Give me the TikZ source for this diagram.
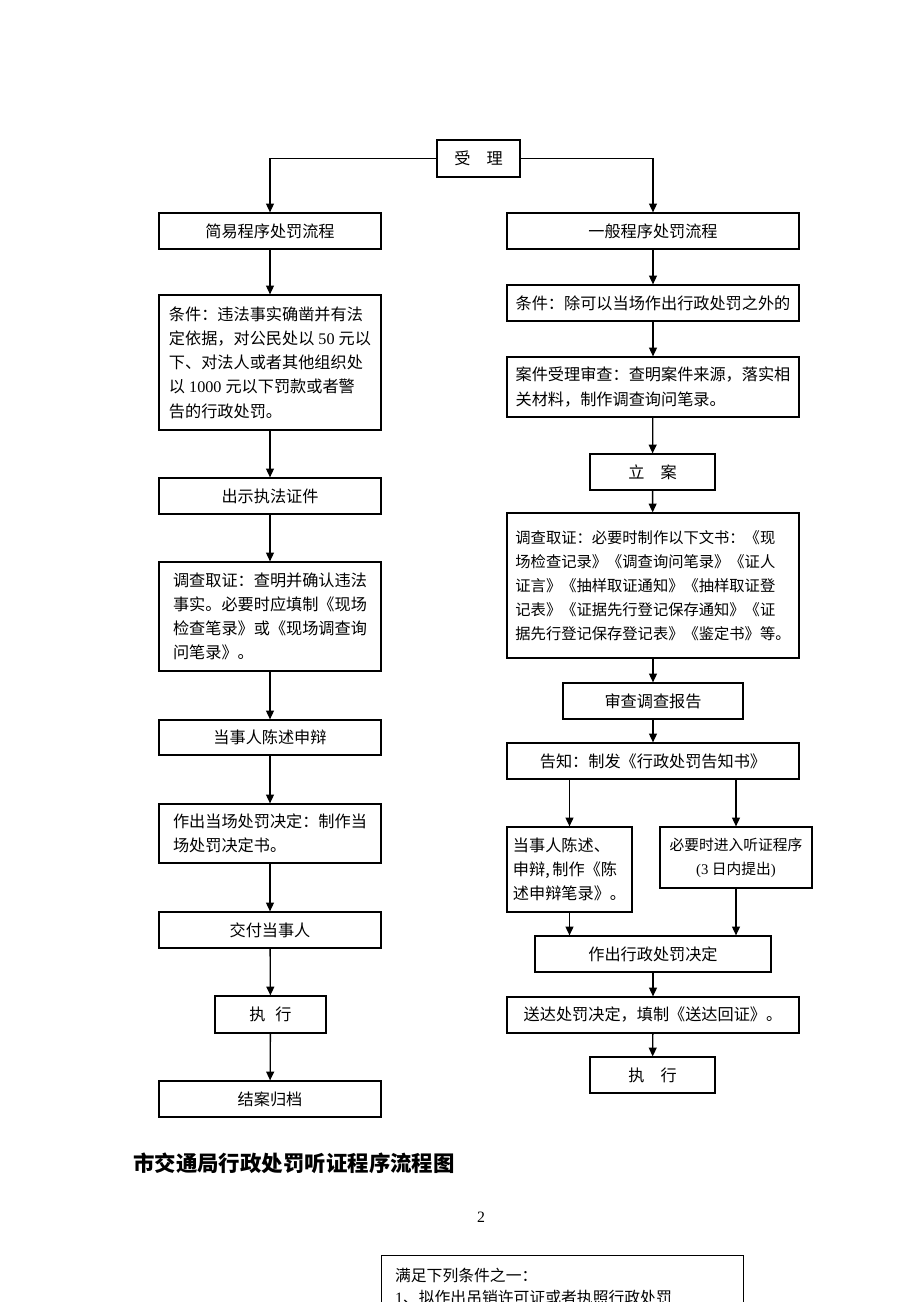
\documentclass[tikz,border=0pt]{standalone}
\usepackage{fontspec}
\setmainfont{Liberation Serif}
\newfontfamily\cjk{Noto Sans CJK SC}
\newfontfamily\latin{Liberation Serif}
\usepackage{tikz}
\usetikzlibrary{calc, positioning, arrows.meta}

\begin{document}
\begin{tikzpicture}[x=0.02cm, y=-0.02cm,
  box/.style={draw, line width=0.7pt, inner sep=2pt, align=left,
    font=\cjk\fontsize{9.2}{13.8}\selectfont, minimum height=0.72cm},
  wide/.style={box, minimum width=5.84cm},
  lwide/.style={box, minimum width=4.44cm},
  small/.style={box, minimum width=2.5cm},
  arr/.style={-{Triangle[length=5pt, width=4.5pt]}, line width=0.75pt}]
\useasboundingbox (0,0) rectangle (920,1302);
\clip (0,0) rectangle (920,1302);
% nodes %
\node[box, minimum width=1.66cm, minimum height=0.74cm] (sl) at (478.5,158.5) {受\hspace{1em}理};
\node[lwide] (jy) at (270,231) {简易程序处罚流程};
\node[wide] (yb) at (653,231) {一般程序处罚流程};
% simple procedure %
\node[lwide, minimum height=2.7cm] (lcond) at (270,362.5) {条件：违法事实确凿并有法\\定依据，对公民处以{\latin\ 50 }元以\\下、对法人或者其他组织处\\以{\latin\ 1000 }元以下罚款或者警\\告的行政处罚。};
\node[lwide] (zs) at (270,496) {出示执法证件};
\node[lwide, minimum height=2.18cm] (ldc) at (270,616.5) {调查取证：查明并确认违法\\事实。必要时应填制《现场\\检查笔录》或《现场调查询\\问笔录》。};
\node[lwide, minimum height=0.7cm] (lsb) at (270,737.5) {当事人陈述申辩};
\node[lwide, minimum height=1.18cm] (ljd) at (270,833.5) {作出当场处罚决定：制作当\\场处罚决定书。};
\node[lwide] (jf) at (270,930) {交付当事人};
\node[box, minimum width=2.22cm, minimum height=0.74cm] (lzx) at (270.5,1014.5) {执\hspace{0.6em}行};
\node[lwide] (ja) at (270,1099) {结案归档};
% general procedure %
\node[wide] (rcond) at (653,303) {条件：除可以当场作出行政处罚之外的};
\node[wide, minimum height=1.2cm] (sc) at (653,387) {案件受理审查：查明案件来源，落实相\\关材料，制作调查询问笔录。};
\node[small] (la) at (652.5,472) {立\hspace{1em}案};
\node[wide, minimum height=2.9cm, inner sep=1pt,
  font=\cjk\fontsize{8.7}{13.6}\selectfont] (rdc) at (653,585.5) {调查取证：必要时制作以下文书：《现\\场检查记录》《调查询问笔录》《证人\\证言》《抽样取证通知》《抽样取证登\\记表》《证据先行登记保存通知》《证\\据先行登记保存登记表》《鉴定书》等。};
\node[box, minimum width=3.6cm] (bg) at (653,701) {审查调查报告};
\node[wide] (gz) at (653,761) {告知：制发《行政处罚告知书》};
\node[small, minimum height=1.7cm] (csb) at (569.5,869.5) {当事人陈述、\\申辩,\,制作《陈\\述申辩笔录》。};
\node[box, minimum width=3.04cm, minimum height=1.22cm, align=center,
  font=\cjk\fontsize{8.4}{13.8}\selectfont] (tz) at (736,857.5) {必要时进入听证程序\\{\latin(3} 日内提出{\latin)}};
\node[box, minimum width=4.72cm] (jd) at (653,954) {作出行政处罚决定};
\node[wide] (sd) at (653,1015) {送达处罚决定，填制《送达回证》。};
\node[small] (rzx) at (652.5,1075) {执\hspace{1em}行};
% title and next page %
\node[font=\cjk\bfseries\fontsize{12.2}{14}\selectfont] (tt) at (294,1163) {市交通局行政处罚听证程序流程图};
\node[font=\fontsize{9}{11}\selectfont] (pg) at (481,1217) {2};
\node[box, anchor=north west, minimum width=7.24cm,
  inner xsep=0.24cm, inner ysep=0.26cm, font=\cjk\fontsize{9}{12}\selectfont,
  text width=6.7cm, text depth=2.5cm] (tj) at (381,1255) {满足下列条件之一：\\{\latin 1}、拟作出吊销许可证或者执照行政处罚};
% edges %
\draw[arr] (sl.west) -| (jy.north);
\draw[arr] (sl.east) -| (yb.north);
\draw[arr] (jy) -- (lcond);
\draw[arr] (lcond) -- (zs);
\draw[arr] (zs) -- (ldc);
\draw[arr] (ldc) -- (lsb);
\draw[arr] (lsb) -- (ljd);
\draw[arr] (ljd) -- (jf);
\draw[arr] (jf) -- (lzx);
\draw[arr] (lzx) -- (ja);
\draw[arr] (yb) -- (rcond);
\draw[arr] (rcond) -- (sc);
\draw[arr] (sc) -- (la);
\draw[arr] (la) -- (rdc);
\draw[arr] (rdc) -- (bg);
\draw[arr] (bg) -- (gz);
\draw[arr] (gz.south -| csb.north) -- (csb.north);
\draw[arr] (gz.south -| tz.north) -- (tz.north);
\draw[arr] (csb.south) -- (csb.south |- jd.north);
\draw[arr] (tz.south) -- (tz.south |- jd.north);
\draw[arr] (jd) -- (sd);
\draw[arr] (sd) -- (rzx);
\end{tikzpicture}
\end{document}
